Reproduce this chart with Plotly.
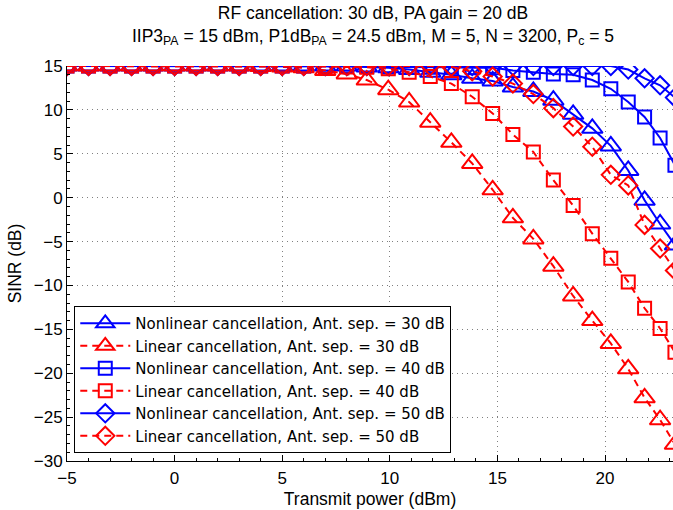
import plotly.graph_objects as go

# Transmit power (dBm) for each simulated point (PA output, compressing near the top)
tx_power = [-5, -4, -3, -2, -1, 0, 1, 2, 3, 4, 5, 6, 7, 8,
            8.93, 9.93, 10.9, 11.88, 12.86, 13.83, 14.78, 15.72, 16.67,
            17.6, 18.52, 19.41, 20.27, 21.08, 21.84, 22.56, 23.25]

nl_30 = [15, 15, 15, 15, 15, 15, 15, 15, 15, 15, 15, 15, 15, 15,
         14.9, 14.8, 14.6, 14.3, 14.0, 13.6, 13.3, 12.6, 12.1,
         11.1, 9.5, 7.9, 5.9, 3.1, -0.3, -3.0, -5.4]
lin_30 = [15, 15, 15, 15, 15, 15, 15, 15, 15, 14.95, 14.9, 14.8, 14.5, 14.1,
          13.4, 12.3, 10.9, 8.6, 6.3, 3.9, 0.9, -2.3, -4.7,
          -7.8, -11.2, -14.0, -16.6, -19.5, -22.8, -25.3, -28.1]
nl_40 = [15, 15, 15, 15, 15, 15, 15, 15, 15, 15, 15, 15, 15, 15,
         14.95, 14.9, 14.9, 14.85, 14.85, 14.8, 14.8, 14.5, 14.3,
         14.1, 14.0, 13.4, 12.4, 10.9, 9.2, 6.8, 3.7]
lin_40 = [15, 15, 15, 15, 15, 15, 15, 15, 15, 15, 15, 15, 14.95, 14.9,
          14.85, 14.7, 14.3, 13.8, 13.0, 11.5, 9.6, 7.2, 5.2,
          2.0, -0.9, -4.1, -6.9, -9.6, -12.6, -14.9, -17.6]
nl_50 = [15, 15, 15, 15, 15, 15, 15, 15, 15, 15, 15, 15, 15, 15,
         15, 15, 15, 15, 15, 15, 15, 15, 15,
         15, 15, 15, 15.0, 14.6, 13.6, 12.8, 11.4]
lin_50 = [15, 15, 15, 15, 15, 15, 15, 15, 15, 15, 15, 15, 15, 15,
          15, 15, 15, 15, 14.9, 14.4, 13.8, 13.0, 11.8,
          10.2, 8.1, 5.8, 2.6, 1.4, -3.1, -5.8, -8.3]

series_names = [
    "Nonlinear cancellation, Ant. sep. = 30 dB",
    "Linear cancellation, Ant. sep. = 30 dB",
    "Nonlinear cancellation, Ant. sep. = 40 dB",
    "Linear cancellation, Ant. sep. = 40 dB",
    "Nonlinear cancellation, Ant. sep. = 50 dB",
    "Linear cancellation, Ant. sep. = 50 dB",
]
series_values = [nl_30, lin_30, nl_40, lin_40, nl_50, lin_50]
x_ticks = [-5, 0, 5, 10, 15, 20]
y_ticks = [-30, -25, -20, -15, -10, -5, 0, 5, 10, 15]

BLUE = "#0000ff"
RED = "#ff0000"
DASH = "7px,5px"
styles = [
    dict(color=BLUE, dash="solid", symbol="triangle-up-open", size=18),
    dict(color=RED, dash=DASH, symbol="triangle-up-open", size=18),
    dict(color=BLUE, dash="solid", symbol="square-open", size=13),
    dict(color=RED, dash=DASH, symbol="square-open", size=13),
    dict(color=BLUE, dash="solid", symbol="diamond-open", size=14),
    dict(color=RED, dash=DASH, symbol="diamond-open", size=14),
]

FONT = "Liberation Sans, Arial, Helvetica, sans-serif"

fig = go.Figure()
for name, vals, st in zip(series_names, series_values, styles):
    fig.add_trace(go.Scatter(
        x=tx_power, y=vals, name=name, mode="lines+markers",
        line=dict(color=st["color"], width=2, dash=st["dash"]),
        marker=dict(symbol=st["symbol"], size=st["size"], color=st["color"],
                    line=dict(width=2, color=st["color"])),
    ))

axis_common = dict(
    showline=True, linecolor="black", linewidth=1,
    ticks="inside", ticklen=6, tickcolor="black", tickwidth=1,
    showgrid=True, gridcolor="#808080", gridwidth=1, griddash="1px,4px",
    zeroline=False, mirror=False, automargin=False,
    tickfont=dict(family=FONT, size=17, color="black"),
    minor=dict(ticks="inside", ticklen=3, tickcolor="black", showgrid=False),
)

fig.update_layout(
    width=673, height=510,
    margin=dict(l=67, r=0, t=66, b=49),
    paper_bgcolor="white", plot_bgcolor="white",
    font=dict(family=FONT, size=17, color="black"),
    title=dict(
        text="RF cancellation: 30 dB, PA gain = 20 dB<br>"
             "IIP3<sub>PA</sub> = 15 dBm, P1dB<sub>PA</sub> = 24.5 dBm, M = 5, N = 3200, P<sub>c</sub> = 5",
        xref="container", x=373 / 673, xanchor="center",
        yref="container", y=1 - 19 / 510, yanchor="top",
        font=dict(family=FONT, size=17.5, color="black"),
        automargin=False,
    ),
    xaxis=dict(range=[-5, 23.16], tickvals=x_ticks, ticklabelstandoff=2,
               title=dict(text="Transmit power (dBm)", standoff=5,
                          font=dict(family=FONT, size=17.5)),
               **axis_common),
    yaxis=dict(range=[-30, 15], tickvals=y_ticks,
               title=dict(text="SINR (dB)", standoff=7,
                          font=dict(family=FONT, size=17.5)),
               **axis_common),
    legend=dict(
        x=0.012, y=0.02, xanchor="left", yanchor="bottom",
        bgcolor="white", bordercolor="black", borderwidth=1,
        font=dict(family="DejaVu Sans, sans-serif", size=15, color="black"),
        tracegroupgap=0, itemwidth=50,
    ),
    showlegend=True,
)
fig.update_xaxes(minor=dict(dtick=1))
fig.update_yaxes(minor=dict(dtick=1))

fig.write_html("out.html", config={"displayModeBar": False},
               post_script="document.body.style.margin='0px';")
